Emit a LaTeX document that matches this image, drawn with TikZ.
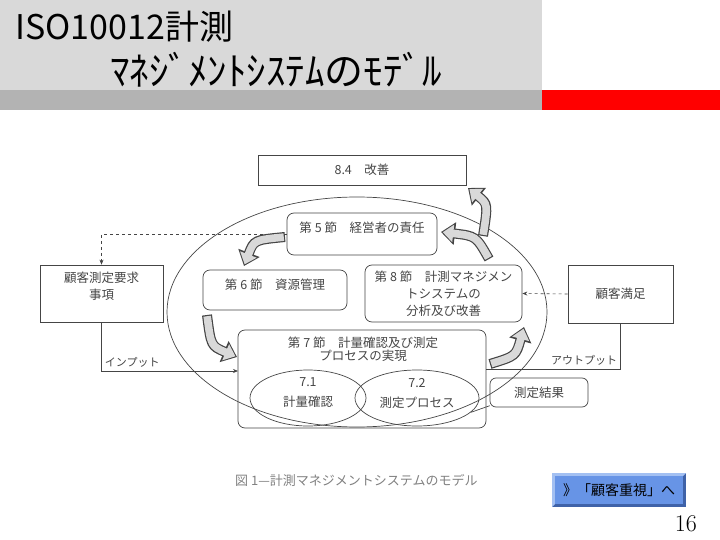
\documentclass[tikz,border=0pt]{standalone}
\usepackage{fontspec}
\usepackage{xcolor}
\newfontfamily\jp{Noto Sans CJK JP}
\usetikzlibrary{arrows.meta,shapes.geometric}
\definecolor{bandgray}{HTML}{D9D9D9}
\definecolor{stripgray}{HTML}{B3B3B3}
\definecolor{stripred}{HTML}{FF0000}
\definecolor{ink}{HTML}{454545}
\definecolor{btnface}{HTML}{6794E6}
\definecolor{btnhi}{HTML}{A3C0F2}
\definecolor{btnlo}{HTML}{3F62A8}
% fat stippled arrow: start, control, end
\newcommand{\fatarrow}[3]{%
\draw[ink, line width=10pt, -{Triangle[length=14pt,width=22pt]}] (#1) .. controls (#2) .. (#3);
\draw[gray!30, line width=7.6pt, shorten <=1.2pt, shorten >=1.8pt, -{Triangle[length=10.5pt,width=17pt]}] (#1) .. controls (#2) .. (#3);
}

\begin{document}
\begin{tikzpicture}[x=1pt,y=-1pt,
 box/.style={draw=ink, line width=0.7pt},
 clause/.style={box, rounded corners=7pt},
 sub/.style={box, ellipse},
 txt/.style={font=\jp\fontsize{12.5}{17}\selectfont, text=ink, align=center, inner sep=0pt},
 info/.style={ink, line width=0.6pt, dashed},
 flow/.style={ink, line width=0.7pt},
 tip/.style={-{Stealth[length=5pt,width=4pt]}}
]
\useasboundingbox (0,0) rectangle (720,540);
% header band
\fill[bandgray] (0,0) rectangle (542,90);
\fill[stripgray] (0,90) rectangle (542,110);
\fill[stripred] (542,90) rectangle (720,110);
\node[anchor=base west, inner sep=0pt, font=\jp\fontsize{34}{40}\selectfont] (title) at (15,40) {ISO10012計測};
\node[anchor=base west, inner sep=0pt, font=\jp\fontsize{39}{40}\selectfont] (subtitle) at (110,86) {ﾏﾈｼﾞﾒﾝﾄｼｽﾃﾑのﾓﾃﾞﾙ};

% the model
\node[sub, minimum width=380pt, minimum height=230pt] (cycle) at (357,312) {};
\node[box, txt, minimum width=208pt, minimum height=30pt] (improve) at (362,170) {8.4　改善};

\node[clause, minimum width=150pt, minimum height=42pt] (c5) at (362,234) {};
\node[txt] (c5t) at (362,228) {第 5 節　経営者の責任};
\node[clause, minimum width=144pt, minimum height=40pt] (c6) at (275,290) {};
\node[txt] (c6t) at (275,285) {第 6 節　資源管理};
\node[clause, txt, minimum width=157pt, minimum height=57pt] (c8) at (443.5,293.5) {第 8 節　計測マネジメン\\トシステムの\\分析及び改善};
\node[clause, minimum width=248pt, minimum height=98pt] (c7) at (362,379) {};
\node[txt, font=\jp\fontsize{12.5}{13}\selectfont] (c7t) at (363,349) {第 7 節　計量確認及び測定\\プロセスの実現};
\node[sub, minimum width=116pt, minimum height=56pt] (e71) at (308,398) {};
\node[txt, font=\jp\fontsize{12.5}{20}\selectfont] (e71t) at (308,393) {7.1\\計量確認};
\node[sub, minimum width=124pt, minimum height=56pt] (e72) at (417,398) {};
\node[txt, font=\jp\fontsize{12.5}{20}\selectfont] (e72t) at (417,393) {7.2\\測定プロセス};
\node[clause, txt, rounded corners=6pt, minimum width=98pt, minimum height=29pt] (res) at (539,392.5) {測定結果};

\node[box, minimum width=123pt, minimum height=57pt] (cust) at (101.5,293.5) {};
\node[txt] (custt) at (101.5,286) {顧客測定要求\\事項};
\node[box, txt, minimum width=105pt, minimum height=58pt] (sat) at (620.5,294) {顧客満足};

% connectors
\coordinate (inp) at (238,371);
\coordinate (outp) at (486,369);
\draw[info, tip] (c5.west) -| (cust.north);
\draw[info, tip] (sat.west) -- (c8.east);
\draw[flow, tip] (cust.south) |- node[txt, font=\jp\fontsize{11}{11}\selectfont, above right, inner sep=3pt, pos=0.5] {インプット} (inp);
\draw[flow] (outp) -| node[txt, font=\jp\fontsize{11}{11}\selectfont, above left, inner sep=3pt, pos=0.5] {アウトプット} (sat.south);
\draw[flow] (e72.-15) -- (res.195);

% cycle arrows
\coordinate (a1s) at (483,236); \coordinate (a1c) at (488,204); \coordinate (a1e) at (468,188);
\coordinate (a2s) at (489,259); \coordinate (a2c) at (476,236); \coordinate (a2e) at (441,232);
\coordinate (a3s) at (285,237); \coordinate (a3c) at (254,240); \coordinate (a3e) at (244,266);
\coordinate (a4s) at (207,315); \coordinate (a4c) at (211,346); \coordinate (a4e) at (237,357);
\coordinate (a5s) at (490,364); \coordinate (a5c) at (516,356); \coordinate (a5e) at (524,327);
\fatarrow{a1s}{a1c}{a1e}
\fatarrow{a2s}{a2c}{a2e}
\fatarrow{a3s}{a3c}{a3e}
\fatarrow{a4s}{a4c}{a4e}
\fatarrow{a5s}{a5c}{a5e}

\node[txt, anchor=base west, text=gray, font=\jp\fontsize{13}{13}\selectfont] (caption) at (235,485) {図 1—計測マネジメントシステムのモデル};

% link button and page number
\fill[btnlo] (552,473) rectangle (686,507);
\fill[btnhi] (552,473) -- (686,473) -- (683,476) -- (555,476) -- (555,504) -- (552,507) -- cycle;
\node[fill=btnface, minimum width=128pt, minimum height=28pt, inner sep=0pt, font=\jp\fontsize{14}{14}\selectfont] (btn) at (619,490) {》「顧客重視」へ};
\node[anchor=base east, inner sep=0pt, font=\fontsize{24}{24}\selectfont] (page) at (697,531) {16};
\end{tikzpicture}
\end{document}
